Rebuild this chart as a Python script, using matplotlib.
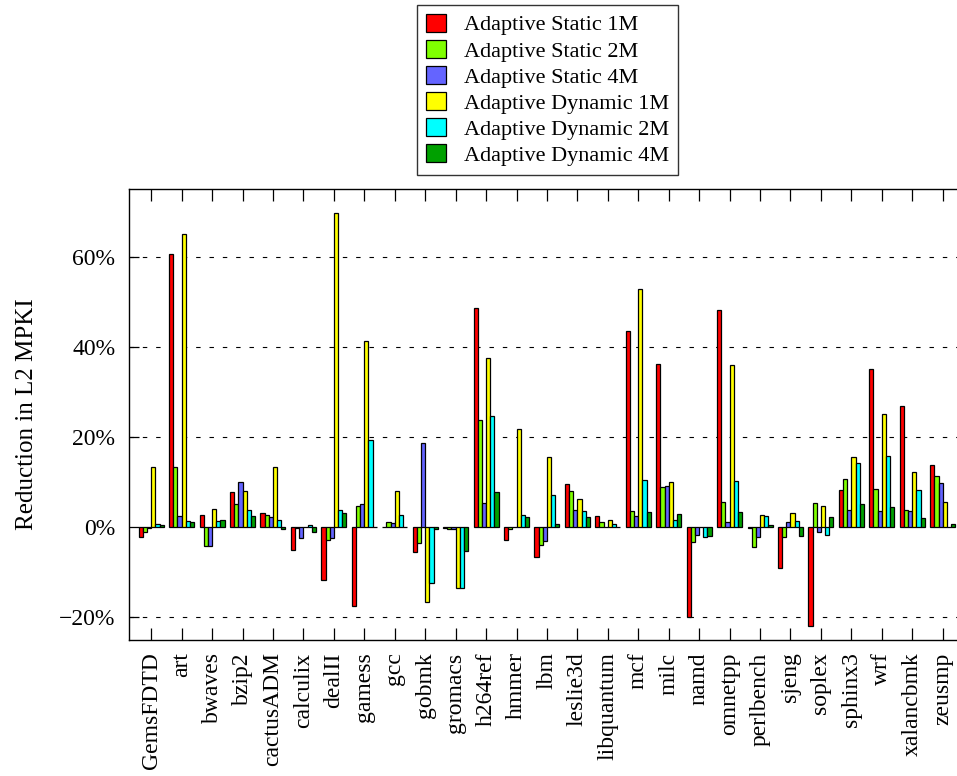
import matplotlib
matplotlib.use("Agg")
import matplotlib.pyplot as plt
import numpy as np
from matplotlib.ticker import FixedLocator, FuncFormatter

categories = ['GemsFDTD', 'art', 'bwaves', 'bzip2', 'cactusADM', 'calculix', 'dealII',
              'gamess', 'gcc', 'gobmk', 'gromacs', 'h264ref', 'hmmer', 'lbm', 'leslie3d',
              'libquantum', 'mcf', 'milc', 'namd', 'omnetpp', 'perlbench', 'sjeng', 'soplex',
              'sphinx3', 'wrf', 'xalancbmk', 'zeusmp']

static_1m = [-2.1, 60.6, 2.7, 7.7, 3.2, -5.0, -11.7, -17.5, 0.0, -5.5, -0.1, 48.6, -2.8, -6.6,
             9.6, 2.4, 43.4, 36.2, -19.9, 48.1, -0.1, -9.0, -21.8, 8.3, 35.0, 26.9, 13.7]
static_2m = [-1.0, 13.4, -4.1, 5.2, 2.7, -0.2, -2.8, 4.7, 1.25, -3.5, -0.45, 23.7, -0.4, -4.0,
             8.1, 1.2, 3.5, 8.9, -3.3, 5.6, -4.4, -2.2, 5.4, 10.6, 8.5, 3.9, 11.4]
static_4m = [-0.2, 2.4, -4.1, 10.1, 2.3, -2.5, -2.4, 5.2, 1.0, 18.75, -0.4, 5.4, 0.0, -3.0,
             3.8, 0.15, 2.5, 9.1, -1.8, 1.1, -2.2, 1.2, -1.1, 3.8, 3.5, 3.6, 9.7]
dynamic_1m = [13.4, 65.0, 4.1, 8.0, 13.4, 0.0, 69.7, 41.2, 8.0, -16.5, -13.4, 37.5, 21.8, 15.65,
              6.3, 1.6, 52.9, 10.1, 0.0, 36.0, 2.7, 3.1, 4.7, 15.6, 25.0, 12.3, 5.7]
dynamic_2m = [0.7, 1.4, 1.3, 3.8, 1.55, 0.5, 3.8, 19.3, 2.7, -12.3, -13.5, 24.6, 2.6, 7.2,
              3.5, 0.7, 10.4, 1.55, -2.2, 10.3, 2.5, 1.3, -1.8, 14.25, 15.8, 8.3, 0.15]
dynamic_4m = [0.4, 1.2, 1.55, 2.4, -0.4, -1.0, 3.2, 0.1, 0.1, -0.5, -5.2, 7.8, 2.3, 0.7,
              2.3, 0.05, 3.4, 2.9, -1.85, 3.4, 0.5, -1.85, 2.3, 5.2, 4.4, 2.1, 0.65]

series_names = ['Adaptive Static 1M', 'Adaptive Static 2M', 'Adaptive Static 4M',
                'Adaptive Dynamic 1M', 'Adaptive Dynamic 2M', 'Adaptive Dynamic 4M']
series_values = [static_1m, static_2m, static_4m, dynamic_1m, dynamic_2m, dynamic_4m]
colors = ['#ff0000', '#80ff00', '#6464ff', '#ffff00', '#00ffff', '#00a000']

y_ticks = [-20, 0, 20, 40, 60]

plt.rcParams['font.family'] = ['Liberation Serif', 'DejaVu Serif']
plt.rcParams['font.size'] = 17

fig = plt.figure(figsize=(9.57, 7.76), dpi=100)
ax = fig.add_axes([0.1351, 0.1753, 0.8649, 0.5812])

x = np.arange(len(categories))
w = 0.137
handles = []
for i, (vals, col, name) in enumerate(zip(series_values, colors, series_names)):
    b = ax.bar(x + (i - 2.5) * w, vals, width=w, color=col, edgecolor='black',
               linewidth=0.9, label=name, zorder=3)
    handles.append(b)

ax.set_xlim(-0.72, 26.47)
ax.set_ylim(-25, 75)

ax.set_xticks(x)
ax.set_xticklabels(categories, rotation=90, va='top', ha='center')
ax.yaxis.set_major_locator(FixedLocator(y_ticks))
ax.yaxis.set_major_formatter(FuncFormatter(lambda v, p: ('\u2212%d%%' % abs(v)) if v < 0 else '%d%%' % v))

ax.tick_params(axis='x', direction='in', length=8.4, width=0.9, top=True, bottom=True, pad=9)
ax.tick_params(axis='y', direction='in', length=7.2, width=0.9, left=True, right=False, pad=10)

for t in y_ticks:
    if t != 0:
        ax.axhline(t, color='black', linewidth=0.8, linestyle=(0, (4, 8)), zorder=1)

for s in ['left', 'top', 'bottom']:
    ax.spines[s].set_linewidth(1.0)
ax.spines['right'].set_visible(False)

ax.set_ylabel('Reduction in L2 MPKI', fontsize=18)
ax.yaxis.set_label_coords(-0.110, 0.5)

leg = fig.legend(handles=handles, labels=series_names, loc='upper left',
                 bbox_to_anchor=(0.436, 0.9936), fontsize=16, frameon=True, fancybox=False,
                 edgecolor='black', handlelength=0.9, handleheight=0.86,
                 handletextpad=0.8, labelspacing=0.2, borderpad=0.4, borderaxespad=0)
leg.get_frame().set_linewidth(1.0)

fig.savefig('out.png', dpi=100)
